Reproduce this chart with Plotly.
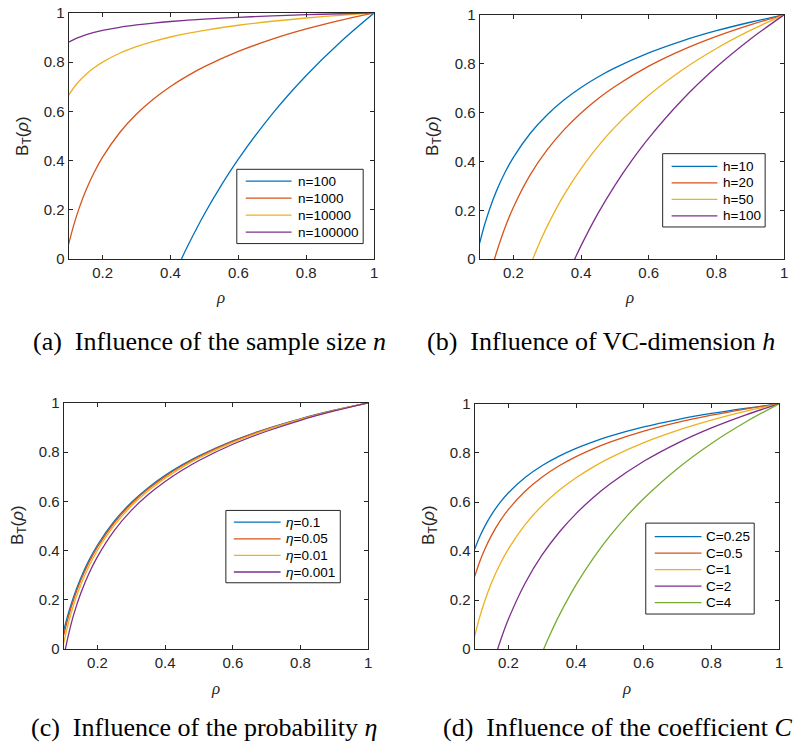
import plotly.graph_objects as go

# ---------------- data ----------------
rho_grid = [0.1, 0.115, 0.13, 0.15, 0.175, 0.2, 0.25, 0.3, 0.35, 0.4, 0.45, 0.5, 0.6, 0.7, 0.8, 0.9, 1.0]

# (a) sample size n
a_labels = ["n=100", "n=1000", "n=10000", "n=100000"]
a_rho_n100 = [0.432, 0.45, 0.5, 0.55, 0.6, 0.7, 0.8, 0.9, 1.0]
a_B_n100 = [0.0, 0.0517, 0.1835, 0.3009, 0.4065, 0.5904, 0.7462, 0.8812, 1.0]
a_B_n1000 = [0.061, 0.1384, 0.2035, 0.2766, 0.3519, 0.4144, 0.5134, 0.5896, 0.6507, 0.7015,
             0.7446, 0.7819, 0.8438, 0.8934, 0.9347, 0.9697, 1.0]
a_B_n10000 = [0.666, 0.6962, 0.7213, 0.7491, 0.7773, 0.8004, 0.8363, 0.8633, 0.8847, 0.9022,
              0.9169, 0.9294, 0.9499, 0.9661, 0.9794, 0.9905, 1.0]
a_B_n100000 = [0.881, 0.8918, 0.9007, 0.9106, 0.9207, 0.9289, 0.9417, 0.9513, 0.9589, 0.9652,
               0.9704, 0.9749, 0.9822, 0.9879, 0.9927, 0.9966, 1.0]

# (b) VC-dimension h
b_labels = ["h=10", "h=20", "h=50", "h=100"]
b_B_h10 = [0.065, 0.142, 0.2069, 0.2797, 0.3547, 0.4169, 0.5155, 0.5913, 0.6522, 0.7028,
           0.7457, 0.7829, 0.8444, 0.8939, 0.935, 0.9698, 1.0]
b_rho_h20 = [0.144, 0.15, 0.175, 0.2, 0.25, 0.3, 0.35, 0.4, 0.45, 0.5, 0.6, 0.7, 0.8, 0.9, 1.0]
b_B_h20 = [0.0, 0.0276, 0.1289, 0.2129, 0.346, 0.4483, 0.5305, 0.5987, 0.6567, 0.7069, 0.79,
           0.8568, 0.9122, 0.9593, 1.0]
b_rho_h50 = [0.257, 0.275, 0.3, 0.35, 0.4, 0.45, 0.5, 0.6, 0.7, 0.8, 0.9, 1.0]
b_B_h50 = [0.0, 0.0601, 0.1355, 0.2643, 0.3712, 0.4621, 0.5407, 0.6709, 0.7756, 0.8624, 0.9362, 1.0]
b_rho_h100 = [0.381, 0.4, 0.45, 0.5, 0.55, 0.6, 0.7, 0.8, 0.9, 1.0]
b_B_h100 = [0.0, 0.0555, 0.1874, 0.3026, 0.4046, 0.4959, 0.6536, 0.7863, 0.9003, 1.0]

# (c) probability eta
c_labels = ["<i>η</i>=0.1", "<i>η</i>=0.05", "<i>η</i>=0.01", "<i>η</i>=0.001"]
c_B_e01 = [0.075, 0.1512, 0.2154, 0.2874, 0.3616, 0.4232, 0.5207, 0.5957, 0.6559, 0.7059,
           0.7484, 0.7852, 0.8461, 0.895, 0.9356, 0.9702, 1.0]
c_B_e005 = [0.057, 0.1371, 0.2037, 0.2775, 0.3531, 0.4157, 0.5146, 0.5906, 0.6514, 0.7019,
            0.7449, 0.7822, 0.8439, 0.8934, 0.9346, 0.9697, 1.0]
c_B_e001 = [0.025, 0.1116, 0.1825, 0.2595, 0.3377, 0.402, 0.5036, 0.5813, 0.6433, 0.6946,
            0.7385, 0.7766, 0.8398, 0.8905, 0.9329, 0.9688, 1.0]
c_rho_e0001 = [0.105, 0.115, 0.13, 0.15, 0.175, 0.2, 0.25, 0.3, 0.35, 0.4, 0.45, 0.5, 0.6, 0.7, 0.8, 0.9, 1.0]
c_B_e0001 = [0.0, 0.0632, 0.1424, 0.2254, 0.3086, 0.3762, 0.4827, 0.5637, 0.6279, 0.6809,
             0.7264, 0.7662, 0.8321, 0.885, 0.9296, 0.9672, 1.0]

# (d) coefficient C
d_labels = ["C=0.25", "C=0.5", "C=1", "C=2", "C=4"]
d_B_c025 = [0.407, 0.4582, 0.501, 0.5488, 0.5976, 0.6378, 0.701, 0.7491, 0.7874, 0.819,
            0.8456, 0.8685, 0.9062, 0.9363, 0.9611, 0.982, 1.0]
d_B_c05 = [0.296, 0.3568, 0.4076, 0.4643, 0.5223, 0.57, 0.645, 0.7021, 0.7476, 0.7851,
           0.8167, 0.8439, 0.8887, 0.9244, 0.9538, 0.9787, 1.0]
d_B_c1 = [0.053, 0.131, 0.1967, 0.2705, 0.3464, 0.4094, 0.5093, 0.5861, 0.6478, 0.6989,
          0.7425, 0.7801, 0.8424, 0.8925, 0.9341, 0.9695, 1.0]
d_rho_c2 = [0.168, 0.175, 0.2, 0.25, 0.3, 0.35, 0.4, 0.45, 0.5, 0.6, 0.7, 0.8, 0.9, 1.0]
d_B_c2 = [0.0, 0.0294, 0.123, 0.2712, 0.3853, 0.4769, 0.5529, 0.6175, 0.6734, 0.766, 0.8404,
          0.9022, 0.9546, 1.0]
d_rho_c4 = [0.304, 0.325, 0.35, 0.4, 0.45, 0.5, 0.55, 0.6, 0.7, 0.8, 0.9, 1.0]
d_B_c4 = [0.0, 0.066, 0.1378, 0.2631, 0.3696, 0.4617, 0.5425, 0.6143, 0.7369, 0.8387, 0.9252, 1.0]

x_tickvals = [0.2, 0.4, 0.6, 0.8, 1.0]
x_ticktext = ["0.2", "0.4", "0.6", "0.8", "1"]
y_tickvals = [0, 0.2, 0.4, 0.6, 0.8, 1.0]
y_ticktext = ["0", "0.2", "0.4", "0.6", "0.8", "1"]

captions = [
    "(a)  Influence of the sample size <i>n</i>",
    "(b)  Influence of VC-dimension <i>h</i>",
    "(c)  Influence of the probability <i>η</i>",
    "(d)  Influence of the coefficient <i>C</i>",
]
y_title = "B<sub>T</sub>(<i>ρ</i>)"
x_title = "ρ"

# ---------------- styling ----------------
COLORS = ["#0072BD", "#D95319", "#EDB120", "#7E2F8E", "#77AC30"]
AXC = "#262626"
SANS = "Liberation Sans, Arial, sans-serif"
SERIF = "Liberation Serif, Times New Roman, serif"
W, H = 800, 754


def px_x(p):
    return p / W


def px_y(p):
    return 1 - p / H


fig = go.Figure()

panels = [
    [(a_rho_n100, a_B_n100), (rho_grid, a_B_n1000), (rho_grid, a_B_n10000), (rho_grid, a_B_n100000)],
    [(rho_grid, b_B_h10), (b_rho_h20, b_B_h20), (b_rho_h50, b_B_h50), (b_rho_h100, b_B_h100)],
    [(rho_grid, c_B_e01), (rho_grid, c_B_e005), (rho_grid, c_B_e001), (c_rho_e0001, c_B_e0001)],
    [(rho_grid, d_B_c025), (rho_grid, d_B_c05), (rho_grid, d_B_c1), (d_rho_c2, d_B_c2), (d_rho_c4, d_B_c4)],
]
panel_labels = [a_labels, b_labels, c_labels, d_labels]

for idx, curves in enumerate(panels, start=1):
    xa = "x" if idx == 1 else f"x{idx}"
    ya = "y" if idx == 1 else f"y{idx}"
    for k, (xs, ys) in enumerate(curves):
        fig.add_trace(go.Scatter(
            x=xs, y=ys, mode="lines", name=panel_labels[idx - 1][k],
            line=dict(color=COLORS[k], width=1.3, shape="spline", smoothing=1.0),
            xaxis=xa, yaxis=ya, showlegend=False, hoverinfo="skip",
        ))

# panel boxes in pixels: (left, right, top, bottom)
boxes = [(69, 376, 4, 256), (482, 788, 6, 256), (64, 370, 403, 655), (477, 783, 404, 655)]

layout = dict(
    width=W, height=H, margin=dict(l=0, r=0, t=0, b=0),
    paper_bgcolor="white", plot_bgcolor="white", showlegend=False,
)

for i, (l, r, t, b) in enumerate(boxes, start=1):
    xk = "xaxis" if i == 1 else f"xaxis{i}"
    yk = "yaxis" if i == 1 else f"yaxis{i}"
    xa = "x" if i == 1 else f"x{i}"
    ya = "y" if i == 1 else f"y{i}"
    common = dict(showline=True, linecolor=AXC, linewidth=1, mirror="ticks", ticks="inside",
                  ticklen=4, tickcolor=AXC, tickwidth=1, showgrid=False, zeroline=False,
                  tickfont=dict(family=SANS, size=15, color=AXC), fixedrange=True)
    layout[xk] = dict(domain=[px_x(l), px_x(r)], anchor=ya, range=[0.1, 1.0],
                      tickvals=x_tickvals, ticktext=x_ticktext, **common)
    layout[yk] = dict(domain=[px_y(b), px_y(t)], anchor=xa, range=[0, 1.0],
                      tickvals=y_tickvals, ticktext=y_ticktext, **common)

fig.update_layout(**layout)

shapes = []
annotations = []

# hand-drawn MATLAB-style legends: (box l, t, r, b, first item y, step, line x0, line x1, text x)
legend_geom = [
    (238, 164, 365, 240, 176.0, 17.4, 247, 293, 297),
    (666, 148, 769, 223, 161.0, 16.9, 675, 721, 725),
    (227, 513, 342, 587, 525.0, 17.0, 235, 282, 285),
    (649, 526, 758, 619, 539.7, 16.9, 658, 705, 708),
]
for p, (bl, bt, br, bb, y0, dy, lx0, lx1, tx) in enumerate(legend_geom):
    shapes.append(dict(type="rect", xref="paper", yref="paper",
                       x0=px_x(bl), x1=px_x(br), y0=px_y(bb), y1=px_y(bt),
                       line=dict(color=AXC, width=1), fillcolor="white", layer="above"))
    for k, lab in enumerate(panel_labels[p]):
        yy = y0 + k * dy
        shapes.append(dict(type="line", xref="paper", yref="paper",
                           x0=px_x(lx0), x1=px_x(lx1), y0=px_y(yy), y1=px_y(yy),
                           line=dict(color=COLORS[k], width=1.3), layer="above"))
        annotations.append(dict(text=lab, x=px_x(tx), y=px_y(yy), xref="paper", yref="paper",
                                showarrow=False, xanchor="left", yanchor="middle",
                                font=dict(family=SANS, size=13.5, color="black")))

# y-axis titles
ytitle_pos = [(24, 130), (436, 130), (19, 528), (432, 528)]
for (x, y) in ytitle_pos:
    annotations.append(dict(text=y_title, x=px_x(x), y=px_y(y), xref="paper", yref="paper",
                            showarrow=False, textangle=-90, xanchor="center", yanchor="middle",
                            font=dict(family=SANS, size=17, color=AXC)))
# x-axis titles
xtitle_pos = [(222, 295), (633, 295), (217, 695), (630, 695)]
for (x, y) in xtitle_pos:
    annotations.append(dict(text=x_title, x=px_x(x), y=px_y(y), xref="paper", yref="paper",
                            showarrow=False, xanchor="center", yanchor="middle",
                            font=dict(family=SERIF, size=17, color=AXC, style="italic")))
# captions
cap_pos = [(211, 340), (604, 340), (205, 735), (621, 735)]
for txt, (x, y) in zip(captions, cap_pos):
    annotations.append(dict(text=txt, x=px_x(x), y=px_y(y), xref="paper", yref="paper",
                            showarrow=False, xanchor="center", yanchor="middle",
                            font=dict(family=SERIF, size=26, color="black")))

fig.update_layout(shapes=shapes, annotations=annotations)
fig.write_html("out.html")
